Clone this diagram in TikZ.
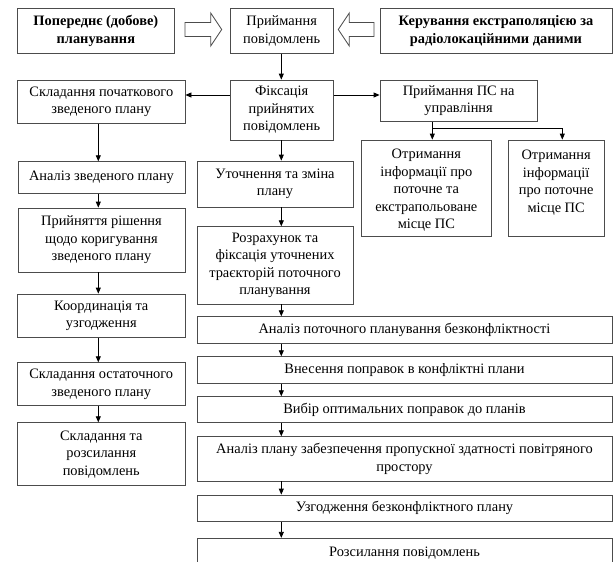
\documentclass[tikz,border=0pt]{standalone}
\usepackage{fontspec}
\setmainfont{Liberation Serif}
\usetikzlibrary{arrows.meta,calc}
\begin{document}
\begin{tikzpicture}[x=1pt,y=-1pt,
  box/.style={draw=black!70, line width=0.8pt, align=center, inner sep=0pt, font=\fontsize{14.4}{17.5}\selectfont},
  bbox/.style={box, font=\fontsize{14.4}{17.5}\selectfont\bfseries},
  txt/.style={align=center, inner sep=0pt, font=\fontsize{14.4}{17.5}\selectfont},
  arr/.style={draw=black, line width=0.8pt, -{Triangle[length=6pt,width=5pt]}},
  ln/.style={draw=black, line width=0.8pt},
  hollow/.style={draw=black!70, line width=0.8pt, fill=white, line join=miter}]
\clip (0,0) rectangle (613,562);
\fill[white] (0,0) rectangle (613,562);
% top row
\node[bbox, minimum width=156.3, minimum height=45] (pp) at (95.85,30.8) {Попереднє (добове)\\планування};
\node[box, minimum width=103.3, minimum height=45] (pr) at (281.65,30.8) {Приймання\\повідомлень};
\node[bbox, minimum width=232, minimum height=45] (ke) at (496,30.8) {Керування екстраполяцією за\\радіолокаційними даними};
% second row
\node[box, minimum width=167.3, minimum height=43.3] (sp) at (101.35,101.65) {Складання початкового\\зведеного плану};
\node[box, minimum width=103.3, minimum height=60] (fx) at (281.65,110) {Фіксація\\прийнятих\\повідомлень};
\node[box, minimum width=157.3, minimum height=41.7] (ps) at (458.65,100.85) {Приймання ПС на\\управління};
\node[box, minimum width=129.3, minimum height=96] (o1) at (426.35,188) {};
\node[txt] (o1t) at (426.35,190.5) {Отримання\\інформації про\\поточне та\\екстрапольоване\\місце ПС};
\node[box, minimum width=95.7, minimum height=96] (o2) at (556.15,188) {};
\node[txt] (o2t) at (556.15,182.5) {Отримання\\інформації\\про поточне\\місце ПС};
% left column
\node[box, minimum width=167, minimum height=31.6] (az) at (101.5,177.5) {Аналіз зведеного плану};
\node[box, minimum width=167, minimum height=64] (pri) at (101.5,240) {Прийняття рішення\\щодо коригування\\зведеного плану};
\node[box, minimum width=167.5, minimum height=43.3] (ko) at (101.25,315.65) {Координація та\\узгодження};
\node[box, minimum width=167.5, minimum height=43] (so) at (101.25,384.2) {Складання остаточного\\зведеного плану};
\node[box, minimum width=167.5, minimum height=63] (sr) at (101.25,454.2) {Складання та\\розсилання\\повідомлень};
% middle column
\node[box, minimum width=156, minimum height=46] (ut) at (275,184) {Уточнення та зміна\\плану};
\node[box, minimum width=156, minimum height=77.3] (rz) at (275,265.35) {Розрахунок та\\фіксація уточнених\\траєкторій поточного\\планування};
\node[box, minimum width=415, minimum height=26.6] (a1) at (404.5,330) {Аналіз поточного планування безконфліктності};
\node[box, minimum width=415, minimum height=26.6] (a2) at (404.5,370) {Внесення поправок в конфліктні плани};
\node[box, minimum width=415, minimum height=26] (a3) at (404.5,409.7) {Вибір оптимальних поправок до планів};
\node[box, minimum width=415, minimum height=44.3] (a4) at (404.5,458.85) {Аналіз плану забезпечення пропускної здатності повітряного\\простору};
\node[box, minimum width=415, minimum height=26.7] (a5) at (404.5,508.35) {Узгодження безконфліктного плану};
\node[box, minimum width=415, minimum height=30] (a6) at (404.5,553.3) {Розсилання повідомлень};
% hollow arrows
\draw[hollow] (185,22.5) -- (210.7,22.5) -- (210.7,13) -- (221.7,29.5) -- (210.7,46) -- (210.7,36.5) -- (185,36.5) -- cycle;
\draw[hollow] (374,22.5) -- (349.3,22.5) -- (349.3,13) -- (338.3,29.5) -- (349.3,46) -- (349.3,36.5) -- (374,36.5) -- cycle;
% connectors
\coordinate (lx) at (98.3,0);
\coordinate (mx) at (281.3,0);
\coordinate (hy) at (0,95);
\coordinate (by) at (0,128.3);
\coordinate (b1) at (432.3,0);
\coordinate (b2) at (562.3,0);
\draw[arr] (mx |- pr.south) -- (mx |- fx.north);
\draw[arr] (fx.west |- hy) -- (sp.east |- hy);
\draw[arr] (fx.east |- hy) -- (ps.west |- hy);
\draw[ln] (b1 |- ps.south) -- (b1 |- by) -- (b2 |- by);
\draw[arr] (b1 |- by) -- (b1 |- o1.north);
\draw[arr] (b2 |- by) -- (b2 |- o2.north);
\draw[arr] (lx |- sp.south) -- (lx |- az.north);
\draw[arr] (lx |- az.south) -- (lx |- pri.north);
\draw[arr] (lx |- pri.south) -- (lx |- ko.north);
\draw[arr] (lx |- ko.south) -- (lx |- so.north);
\draw[arr] (lx |- so.south) -- (lx |- sr.north);
\draw[arr] (mx |- fx.south) -- (mx |- ut.north);
\draw[arr] (mx |- ut.south) -- (mx |- rz.north);
\draw[arr] (mx |- rz.south) -- (mx |- a1.north);
\draw[arr] (mx |- a1.south) -- (mx |- a2.north);
\draw[arr] (mx |- a2.south) -- (mx |- a3.north);
\draw[arr] (mx |- a3.south) -- (mx |- a4.north);
\draw[arr] (mx |- a4.south) -- (mx |- a5.north);
\draw[arr] (mx |- a5.south) -- (mx |- a6.north);
\end{tikzpicture}
\end{document}
